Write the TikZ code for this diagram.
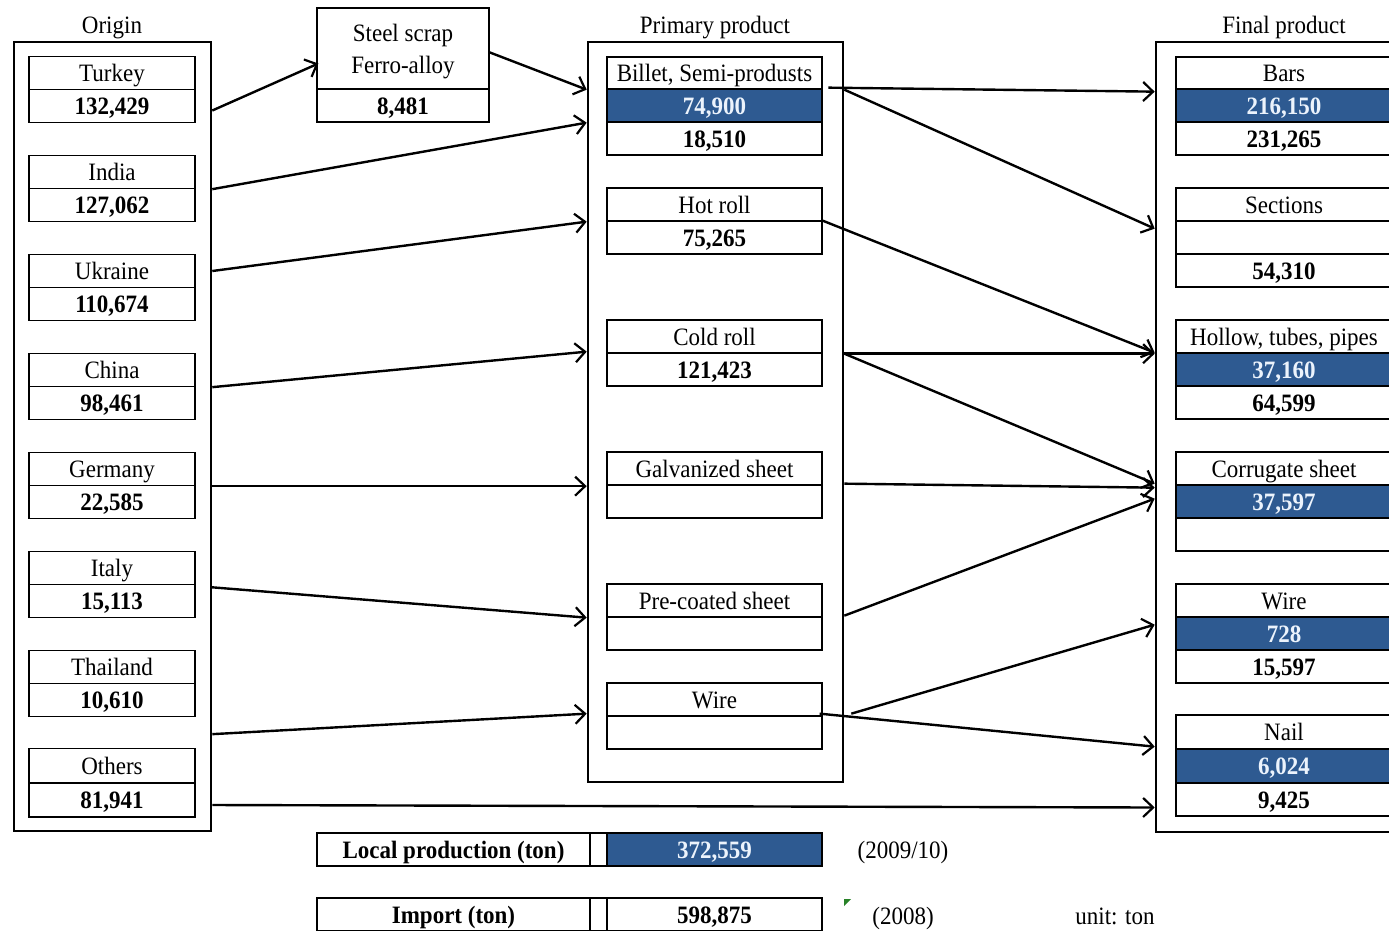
\documentclass[tikz,border=0pt]{standalone}
\usepackage{fontspec}
\setmainfont{Liberation Serif}[FakeStretch=0.92]
\usetikzlibrary{arrows.meta,calc}
\definecolor{cellblue}{RGB}{46,90,145}
\definecolor{paletext}{RGB}{236,243,252}
\definecolor{markgreen}{RGB}{40,130,40}
\newcommand\fsz{\fontsize{25}{32}\selectfont}
\begin{document}
\begin{tikzpicture}[x=1pt,y=-1pt,
  bigbox/.style={draw, line width=2.6pt, inner sep=0pt},
  cell/.style={draw, line width=1.3pt, inner sep=0pt, minimum height=33pt, font=\fsz, text height=20pt, text depth=3pt},
  ocell/.style={cell, minimum width=166pt},
  pcell/.style={cell, minimum width=215pt},
  fcell/.style={cell, minimum width=216pt},
  valtxt/.style={font=\fsz\bfseries},
  bluecell/.style={fill=cellblue, text=paletext, font=\fsz\bfseries},
  title/.style={font=\fsz, inner sep=0pt, text height=20pt, text depth=3pt},
  plain/.style={font=\fsz, inner sep=0pt, text height=20pt, text depth=3pt},
  flow/.style={line width=2.4pt, -{Straight Barb[length=10pt,width=19pt,line width=2.2pt]}}
]
\useasboundingbox (0,0) rectangle (1389,930);
\fill[white] (0,0) rectangle (1389,930);
\clip (0,0) rectangle (1389,930);

% titles
\node[title] (tOrig) at (112,25) {Origin};
\node[title] (tPrim) at (715,25) {Primary product};
\node[title] (tFin) at (1284,25) {Final product};

% big boxes
\node[bigbox, minimum width=197pt, minimum height=789pt] (orig) at (112.5,436.5) {};
\node[bigbox, minimum width=255pt, minimum height=740pt] (prim) at (715.5,412) {};
\node[bigbox, minimum width=254pt, minimum height=790pt] (fin) at (1283,437) {};

% origin cells
\node[ocell] (turkeyn) at (112,73) {Turkey};
\node[ocell, valtxt] (turkeyv) at (112,106) {132,429};
\node[ocell] (indian) at (112,172) {India};
\node[ocell, valtxt] (indiav) at (112,205) {127,062};
\node[ocell] (ukrainen) at (112,271) {Ukraine};
\node[ocell, valtxt] (ukrainev) at (112,304) {110,674};
\node[ocell] (chinan) at (112,370) {China};
\node[ocell, valtxt] (chinav) at (112,403) {98,461};
\node[ocell] (germanyn) at (112,469) {Germany};
\node[ocell, valtxt] (germanyv) at (112,502) {22,585};
\node[ocell] (italyn) at (112,568) {Italy};
\node[ocell, valtxt] (italyv) at (112,601) {15,113};
\node[ocell] (thailandn) at (112,667) {Thailand};
\node[ocell, valtxt] (thailandv) at (112,700) {10,610};
\node[ocell, minimum height=35pt] (othersn) at (112,766) {Others};
\node[ocell, valtxt, minimum height=34pt] (othersv) at (112,800) {81,941};

% steel scrap
\node[draw, line width=1.3pt, inner sep=0pt, minimum width=172pt, minimum height=81pt] (steeln) at (403,48.5) {};
\node[plain] (steelt1) at (403,33) {Steel scrap};
\node[plain] (steelt2) at (403,65) {Ferro-alloy};
\node[cell, valtxt, minimum width=172pt] (steelv) at (403,105.5) {8,481};

% primary cells
\node[pcell, minimum height=32pt] (billetn) at (714.5,73) {Billet, Semi-produsts};
\node[pcell, bluecell] (billetb) at (714.5,105.5) {74,900};
\node[pcell, valtxt] (billetv) at (714.5,138.5) {18,510};
\node[pcell] (hotn) at (714.5,204.5) {Hot roll};
\node[pcell, valtxt] (hotv) at (714.5,237.5) {75,265};
\node[pcell] (coldn) at (714.5,336.5) {Cold roll};
\node[pcell, valtxt] (coldv) at (714.5,369.5) {121,423};
\node[pcell] (galvn) at (714.5,468.5) {Galvanized sheet};
\node[pcell] (galvv) at (714.5,501.5) {};
\node[pcell] (pren) at (714.5,600.5) {Pre-coated sheet};
\node[pcell] (prev) at (714.5,633.5) {};
\node[pcell] (wiren) at (714.5,699.5) {Wire};
\node[pcell] (wirev) at (714.5,732.5) {};

% final cells
\node[fcell, minimum height=32pt] (barsn) at (1284,73) {Bars};
\node[fcell, bluecell] (barsb) at (1284,105.5) {216,150};
\node[fcell, valtxt] (barsv) at (1284,138.5) {231,265};
\node[fcell] (sectn) at (1284,204.5) {Sections};
\node[fcell] (sectb) at (1284,237.5) {};
\node[fcell, valtxt] (sectv) at (1284,270.5) {54,310};
\node[fcell] (holln) at (1284,336.5) {Hollow, tubes, pipes};
\node[fcell, bluecell] (hollb) at (1284,369.5) {37,160};
\node[fcell, valtxt] (hollv) at (1284,402.5) {64,599};
\node[fcell] (corrn) at (1284,468.5) {Corrugate sheet};
\node[fcell, bluecell] (corrb) at (1284,501.5) {37,597};
\node[fcell] (corrv) at (1284,534.5) {};
\node[fcell] (fwiren) at (1284,600.5) {Wire};
\node[fcell, bluecell] (fwireb) at (1284,633.5) {728};
\node[fcell, valtxt] (fwirev) at (1284,666.5) {15,597};
\node[fcell, minimum height=34pt] (nailn) at (1284,732) {Nail};
\node[fcell, bluecell, minimum height=34pt] (nailb) at (1284,766) {6,024};
\node[fcell, valtxt] (nailv) at (1284,799.5) {9,425};

% legend
\node[cell, valtxt, minimum width=273pt] (locl) at (453.5,849.5) {Local production (ton)};
\node[cell, minimum width=17pt] (locm) at (598.5,849.5) {};
\node[cell, bluecell, minimum width=215pt] (locv) at (714.5,849.5) {372,559};
\node[plain] (locy) at (903,850) {(2009/10)};
\node[cell, valtxt, minimum width=273pt] (impl) at (453.5,914.5) {Import (ton)};
\node[cell, minimum width=17pt] (impm) at (598.5,914.5) {};
\node[cell, valtxt, minimum width=215pt] (impv) at (714.5,914.5) {598,875};
\node[plain] (impy) at (903,916) {(2008)};
\node[plain] (unit) at (1115,916) {unit: ton};
\fill[markgreen] (844,899) -- (851,899) -- (844,906) -- cycle;

% flows: origin -> primary
\draw[flow] ($(orig.east |- turkeyv.center)+(0,4.5)$) -- ($(steeln.west)+(2,15)$);
\draw[flow] ($(steeln.east)+(-1,3.5)$) -- (prim.west |- billetn.south);
\draw[flow] (orig.east |- indian.south) -- (prim.west |- billetb.south);
\draw[flow] (orig.east |- ukrainen.center) -- (prim.west |- hotn.south);
\draw[flow] (orig.east |- chinan.south) -- ($(prim.west |- coldn.south)+(0,-2)$);
\draw[flow] (orig.east |- germanyn.south) -- (prim.west |- germanyn.south);
\draw[flow] ($(orig.east |- italyn.south)+(-2,2)$) -- (prim.west |- pren.south);
\draw[flow] ($(orig.east |- thailandv.south)+(0,17)$) -- ($(prim.west |- wiren.south)+(0,-3)$);
\draw[flow] ($(orig.east |- othersv.center)+(0,5)$) -- ($(fin.west |- nailv.center)+(0,8)$);

% flows: primary -> final
\draw[flow] ($(prim.east |- billetn.south)+(-16,-2)$) -- ($(fin.west |- barsn.south)+(0,2)$);
\draw[flow] (prim.east |- billetn.south) -- ($(fin.west |- sectn.south)+(0,7)$);
\draw[flow] ($(hotn.south east)+(0,-1)$) -- ($(fin.west |- holln.south)+(0,-1)$);
\draw[flow] (prim.east |- coldn.south) -- (fin.west |- holln.south);
\draw[flow] (prim.east |- coldn.south) -- ($(fin.west |- corrn.south)+(0,-2)$);
\draw[flow] ($(prim.east |- galvn.south)+(0,-2)$) -- ($(fin.west |- corrn.south)+(0,2)$);
\draw[flow] ($(prim.east |- pren.south)+(0,-2)$) -- ($(fin.west |- corrn.south)+(0,13)$);
\draw[flow] ($(prim.east |- wiren.south)+(7,-3)$) -- ($(fin.west |- fwiren.south)+(0,7)$);
\draw[flow] ($(wiren.south east)+(-3,-3)$) -- ($(fin.west |- nailn.south)+(0,-3)$);
\end{tikzpicture}
\end{document}
